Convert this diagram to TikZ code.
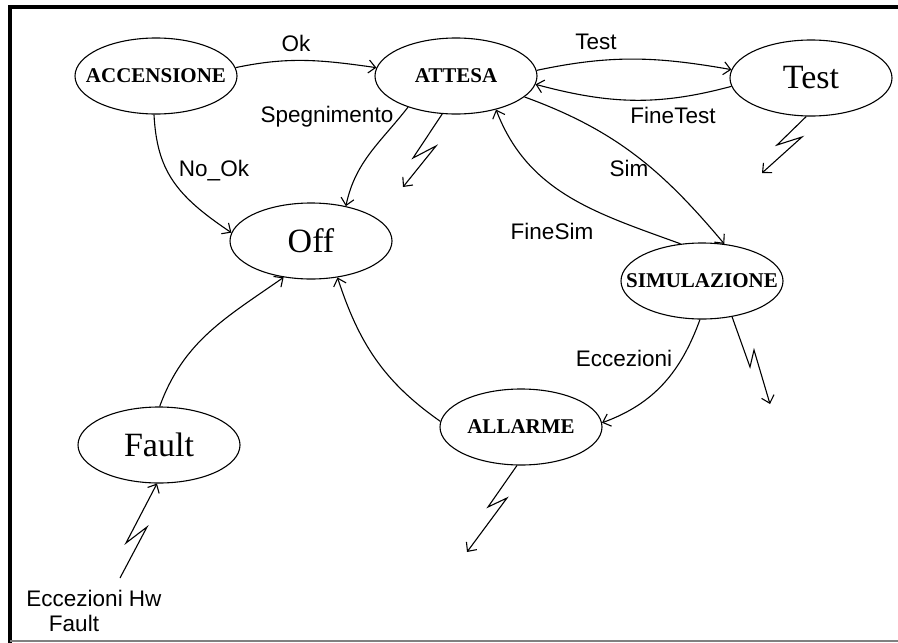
\documentclass[tikz,border=0pt]{standalone}
\usepackage{fontspec}
\setmainfont{Liberation Serif}
\newfontfamily\lblfont{Liberation Sans}
\usetikzlibrary{arrows.meta,shapes.geometric}
% zero-width text so that the ellipse size comes from the minimum sizes only
\newcommand{\ctrtext}[1]{\makebox[0pt]{#1}}
\begin{document}
\begin{tikzpicture}[x=1pt,y=-1pt,
  state/.style={draw,ellipse,line width=1.1pt,minimum width=162pt,minimum height=76pt,inner sep=0pt},
  bigstate/.style={state,font=\fontsize{34}{34}\selectfont},
  boldstate/.style={state,font=\fontsize{21}{21}\selectfont\bfseries},
  trans/.style={line width=1.1pt,-{Straight Barb[length=7pt,width=13pt,line width=1.1pt]}},
  lbl/.style={font=\lblfont\fontsize{22.5}{22.5}\selectfont,inner sep=0pt},
]
\useasboundingbox (0,0) rectangle (898,643);

% frame
\draw[line width=4pt] (10,643) -- (10,7) -- (898,7);
\draw[gray,line width=2pt] (10,641) -- (898,641);

% states
\node[boldstate] (acc) at (156,76)  {\ctrtext{ACCENSIONE}};
\node[boldstate] (att) at (456,76)  {\ctrtext{ATTESA}};
\node[bigstate]  (tst) at (811,78)  {\ctrtext{Test}};
\node[bigstate]  (off) at (311,241) {\ctrtext{Off}};
\node[boldstate] (sim) at (702,281) {\ctrtext{SIMULAZIONE}};
\node[boldstate] (all) at (521,427) {\ctrtext{ALLARME}};
\node[bigstate]  (flt) at (159,445) {\ctrtext{Fault}};

% transitions
\draw[trans] (acc.267) .. controls (157,170) and (175,195) .. (off.174);
\draw[trans] (acc.6)   to[out=12,in=172]  (att.174);
\draw[trans] (att.4)   to[out=12,in=170]  (tst.174);
\draw[trans] (tst.186) to[out=195,in=-15] (att.354);
\draw[trans] (att.213) to[out=232,in=78]  (off.45);
\draw[trans] (att.343) to[out=-20,in=130] (sim.59);
\draw[trans] (sim.120) to[out=160,in=-69] (att.320);
\draw[trans] (sim.267) to[out=-110,in=20] (all.3);
\draw[trans] (all.176) to[out=145,in=-72] (off.306);
\draw[trans] (flt.89)  to[out=70,in=215]  (off.233);

% exception strokes
\coordinate (xatt) at (403,187);
\coordinate (xtst) at (762,173);
\coordinate (xsim) at (770,404);
\coordinate (xall) at (467,552);
\coordinate (xflt) at (120,578);
\draw[trans] (att.250) -- (413,158) -- (436,146) -- (xatt);
\draw[trans] (tst.263) -- (777,145) -- (802,137) -- (xtst);
\draw[trans] (sim.310) -- (750,367) -- (754,350) -- (xsim);
\draw[trans] (all.264) -- (488,507) -- (507,498) -- (xall);
\draw[trans] (xflt) -- (147,527) -- (126,543) -- (flt.267);

% labels
\node[lbl] (lok)  at (296,43)  {Ok};
\node[lbl] (ltst) at (596,42)  {Test};
\node[lbl] (lft)  at (673,115) {FineTest};
\node[lbl] (lspg) at (327,117) {Spegnimento};
\node[lbl] (lnok) at (214,171) {No\_Ok};
\node[lbl] (lsim) at (629,168) {Sim};
\node[lbl] (lfs)  at (552,231) {FineSim};
\node[lbl] (lecc) at (624,358) {Eccezioni};
\node[lbl] (lhw)  at (94,598)  {Eccezioni Hw};
\node[lbl] (lhwf) at (74,623)  {Fault};
\end{tikzpicture}
\end{document}
